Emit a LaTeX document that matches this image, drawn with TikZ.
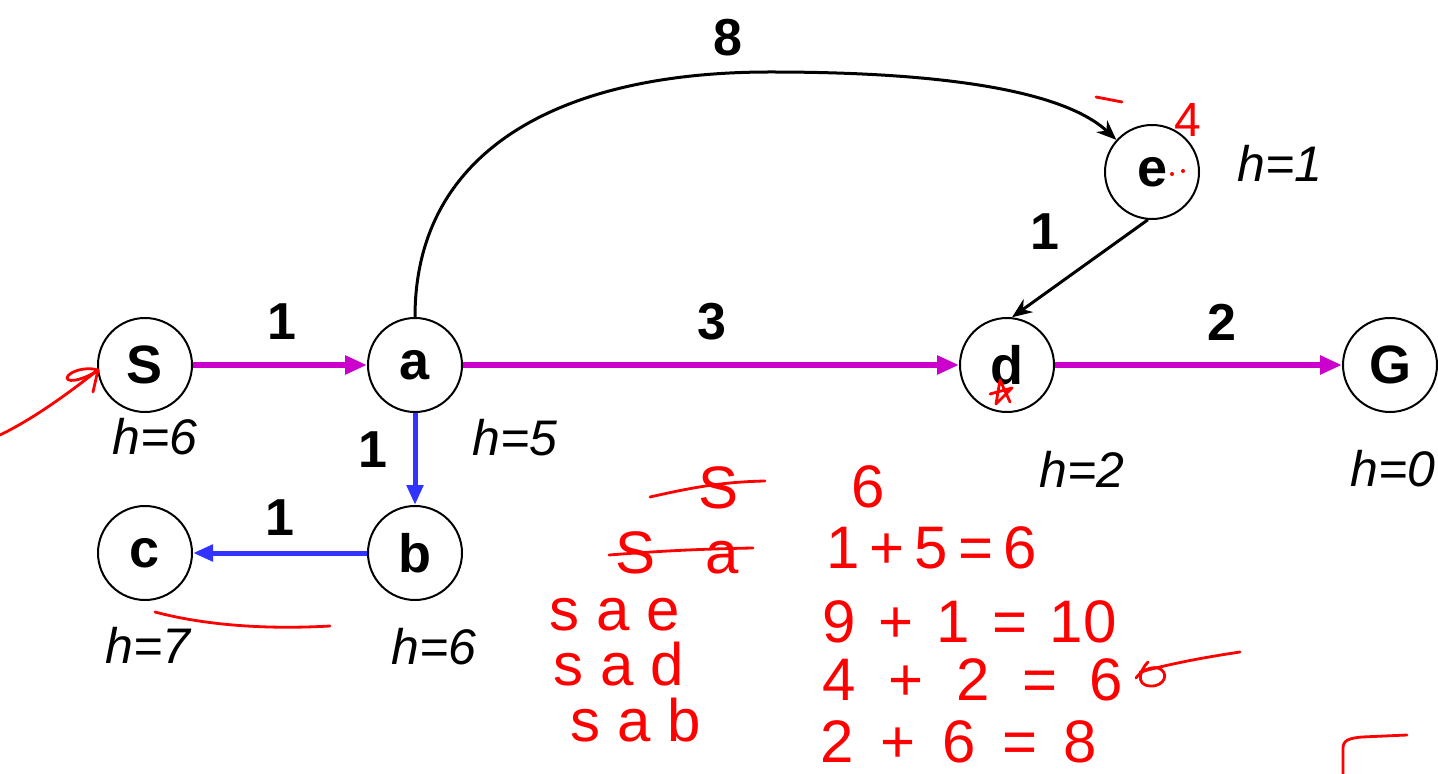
\documentclass[tikz,border=0pt]{standalone}
\usepackage{fontspec}
\setmainfont{Liberation Sans}
\usetikzlibrary{arrows.meta}
\definecolor{mag}{RGB}{204,0,204}
\definecolor{blu}{RGB}{51,51,255}
\definecolor{ink}{RGB}{255,0,0}
\begin{document}
\begin{tikzpicture}[x=0.5pt,y=-0.5pt,
  state/.style={circle,draw,line width=1pt,minimum size=47pt,inner sep=0pt,font=\fontsize{27}{30}\selectfont\bfseries},
  hlab/.style={font=\fontsize{25}{30}\selectfont\itshape,inner sep=0pt},
  wlab/.style={font=\fontsize{26}{30}\selectfont\bfseries,inner sep=0pt},
  path1/.style={mag,line width=3pt,-{Triangle[length=11pt,width=9pt]}},
  path2/.style={blu,line width=2.5pt,-{Triangle[length=10pt,width=8pt]}},
  blk/.style={black,line width=1.5pt,-{Stealth[length=10pt,width=8pt]}},
  hw/.style={ink,font=\fontsize{30}{34}\selectfont,inner sep=0pt},
  stroke/.style={ink,line width=1.4pt,line cap=round,line join=round}]
\useasboundingbox (0,0) rectangle (1438,774);
\clip (0,0) rectangle (1438,774);
\fill[white] (0,0) rectangle (1438,774);
% nodes
\node[state] (S) at (145,365) {S};
\node[state] (a) at (415,365) {a};
\node[state] (d) at (1007,365) {d};
\node[state] (G) at (1390,365) {G};
\node[state] (e) at (1152,172) {e};
\node[state] (b) at (415,553) {b};
\node[state] (c) at (145,553) {c};
% heuristics
\node[hlab] (hS) at (155,437) {h=6};
\node[hlab] (ha) at (515,438) {h=5};
\node[hlab] (hd) at (1082,469) {h=2};
\node[hlab,anchor=west] (hG) at (1350,469) {h=0};
\node[hlab] (he) at (1280,163) {h=1};
\node[hlab] (hc) at (148,645) {h=7};
\node[hlab] (hb) at (434,647) {h=6};
% edges
\draw[path1] (S) -- (a);
\draw[path1] (a) -- (d);
\draw[path1] (d) -- (G);
\draw[path2] (a) -- (b);
\draw[path2] (b) -- (c);
\coordinate (top) at (770,72);
\draw[blk] (a.north) .. controls (415,150) and (560,72) .. (top) .. controls (950,72) and (1065,92) .. (e.138);
\draw[blk] (e.265) -- (d.84);
% edge labels
\node[wlab] (wSa) at (282,322) {1};
\node[wlab] (wad) at (712,322) {3};
\node[wlab] (wdG) at (1222,322) {2};
\node[wlab] (wae) at (728,38) {8};
\node[wlab] (wed) at (1045,232) {1};
\node[wlab] (wab) at (373,450) {1};
\node[wlab] (wbc) at (280,518) {1};
% handwritten annotations
\node[hw] (t1) at (718,488) {S};
\node[hw] (t2) at (677,553) {S~~~a};
\node[hw,anchor=west] (t3) at (549,615) {s a e};
\node[hw,anchor=west] (t4) at (553,664) {s a d};
\node[hw,anchor=west] (t5) at (570,720) {s a b};
\node[hw] (n1) at (868,487) {6};
\node[hw,anchor=west] (n2) at (826,548) {1\,+\,5\,=\,6};
\node[hw,anchor=west] (n3) at (822,622) {9 \hspace{3pt}+ \hspace{3pt}1 \hspace{3pt}= \hspace{3pt}10};
\node[hw,anchor=west] (n4) at (822,680) {4 \hspace{8pt}+ \hspace{8pt}2 \hspace{8pt}= \hspace{8pt}6};
\node[hw,anchor=west] (n5) at (820,742) {2 \hspace{5pt}+ \hspace{5pt}6 \hspace{5pt}= \hspace{5pt}8};
\node[hw,font=\fontsize{24}{28}\selectfont] (n6) at (1188,120) {4};
% strokes
\draw[stroke] (650,497) .. controls (690,488) and (720,482) .. (765,481);
\draw[stroke] (609,555) .. controls (660,551) and (700,549) .. (753,548);
\draw[stroke] (1240,652) .. controls (1200,658) and (1170,664) .. (1140,672);
\draw[stroke] (1148,662) .. controls (1140,670) and (1135,685) .. (1150,686) .. controls (1165,687) and (1170,672) .. (1158,668) .. controls (1150,666) and (1140,672) .. (1136,678);
\draw[stroke] (1343,774) -- (1343,748) .. controls (1343,740) and (1350,738) .. (1362,737) -- (1407,735);
\draw[stroke] (0,435) .. controls (35,418) and (70,392) .. (98,370);
\draw[stroke] (98,370) .. controls (85,366) and (68,372) .. (67,378) .. controls (68,384) and (88,378) .. (98,370) -- (93,392);
\draw[stroke] (155,612) .. controls (200,624) and (260,630) .. (330,626);
\draw[stroke] (1096,97) -- (1122,102);
\draw[stroke] (990,394) -- (1012,388) -- (996,404) -- (1000,380) -- (1010,402);
\fill[ink] (1172,174) circle (1pt) (1183,171) circle (1pt);
\end{tikzpicture}
\end{document}
